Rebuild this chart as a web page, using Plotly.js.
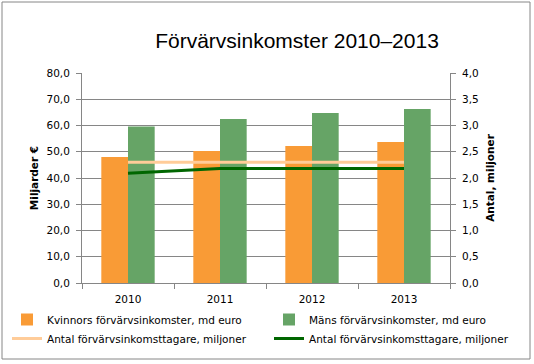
<!DOCTYPE html>
<html>
<head>
<meta charset="utf-8">
<script src="https://cdn.plot.ly/plotly-3.0.1.min.js"></script>
<style>html,body{margin:0;padding:0;background:#fff;}#chart{width:534px;height:364px;}</style>
</head>
<body>
<div id="chart"></div>
<script>
const years = ['2010', '2011', '2012', '2013'];
const womenIncome = [48.0, 50.3, 52.2, 53.7];
const menIncome = [59.6, 62.5, 64.8, 66.3];
const earnersLight = [2.30, 2.30, 2.30, 2.30];
const earnersDark = [2.09, 2.18, 2.18, 2.18];

const names = [
  'Kvinnors förvärvsinkomster, md euro',
  'Mäns förvärvsinkomster, md euro',
  'Antal förvärvsinkomsttagare, miljoner',
  'Antal förvärvsinkomsttagare, miljoner'
];

const L = 82, R = 450, T = 73, B = 283, W = 534, H = 364;
const px = x => (x - L) / (R - L);
const py = y => (B - y) / (B - T);

const traces = [
  {type: 'bar', x: years, y: womenIncome, name: names[0], marker: {color: '#F99B36'}, legend: 'legend'},
  {type: 'bar', x: years, y: menIncome, name: names[1], marker: {color: '#66A466'}, legend: 'legend2'},
  {type: 'scatter', mode: 'lines', x: years, y: earnersLight, name: names[2], yaxis: 'y2',
   line: {color: '#FFCC99', width: 3}, legend: 'legend'},
  {type: 'scatter', mode: 'lines', x: years, y: earnersDark, name: names[3], yaxis: 'y2',
   line: {color: '#006600', width: 3}, legend: 'legend2'}
];

const font = {family: 'DejaVu Sans, Verdana, sans-serif', size: 10.5, color: '#000'};

const legendBase = {orientation: 'v', xanchor: 'left', y: py(305), yanchor: 'top',
  traceorder: 'normal', font: font, bgcolor: 'rgba(0,0,0,0)', tracegroupgap: 0};

const layout = {
  width: W, height: H,
  margin: {l: L, r: W - R, t: T, b: H - B, pad: 0, autoexpand: false},
  paper_bgcolor: '#fff', plot_bgcolor: '#fff',
  separators: ', ',
  font: font,
  showlegend: true,
  barmode: 'group', bargap: 0.42, bargroupgap: 0,
  title: {text: 'Förvärvsinkomster 2010–2013', font: {family: 'Liberation Sans, Arial, sans-serif', size: 21, color: '#000'},
          x: 297 / W, xanchor: 'center', y: 1 - 41 / H, yanchor: 'middle'},
  xaxis: {type: 'category', showgrid: false, showline: true, linecolor: '#868686', linewidth: 1,
          ticks: 'outside', tickson: 'boundaries', ticklen: 5, tickcolor: '#868686',
          tickfont: font, zeroline: false, ticklabelstandoff: 6},
  yaxis: {range: [0, 80], dtick: 10, tickformat: '.1f', showgrid: true, gridcolor: '#868686', gridwidth: 1,
          showline: true, linecolor: '#868686', ticks: 'outside', ticklen: 5, tickcolor: '#868686',
          tickfont: font, zeroline: false, fixedrange: true, ticklabelstandoff: 4,
          title: {text: '<b>Miljarder €</b>', font: font, standoff: 5}},
  yaxis2: {range: [0, 4], dtick: 0.5, tickformat: '.1f', overlaying: 'y', side: 'right', showgrid: false,
           showline: true, linecolor: '#868686', ticks: 'outside', ticklen: 5, tickcolor: '#868686',
           tickfont: font, zeroline: false, ticklabelstandoff: 4,
           title: {text: '<b>Antal, miljoner</b>', font: font, standoff: 8}},
  legend: Object.assign({}, legendBase, {x: px(7)}),
  legend2: Object.assign({}, legendBase, {x: px(269)}),
  shapes: [
    {type: 'rect', xref: 'paper', yref: 'paper', x0: px(2), x1: px(530), y0: py(2), y1: py(359),
     line: {color: '#868686', width: 1}, fillcolor: 'rgba(0,0,0,0)', layer: 'below'}
  ]
};

Plotly.newPlot('chart', traces, layout, {displayModeBar: false, staticPlot: true});
</script>
</body>
</html>
